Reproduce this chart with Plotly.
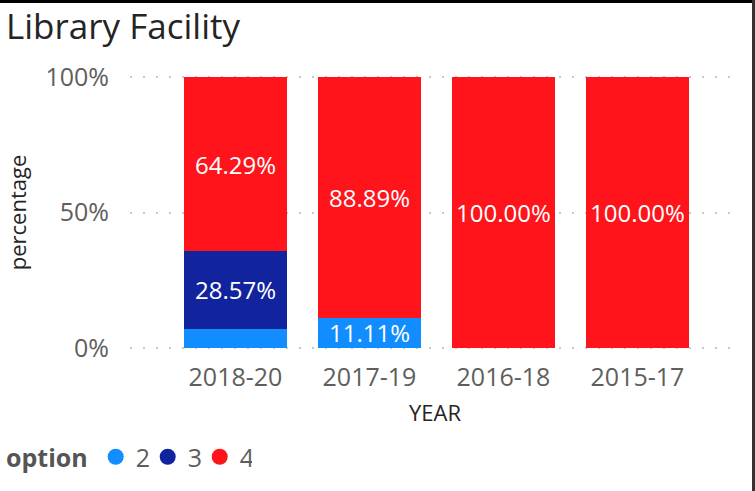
import plotly.graph_objects as go

years = ["2018-20", "2017-19", "2016-18", "2015-17"]
option2 = [7.14, 11.11, 0, 0]
option3 = [28.57, 0, 0, 0]
option4 = [64.29, 88.89, 100, 100]
y_ticks = [0, 50, 100]

series = [("2", option2, "#118DFF"), ("3", option3, "#12239E"), ("4", option4, "#FF141C")]

W, H = 755, 491
L, R, T, B = 130, 15, 76, 142
pw, ph = W - L - R, H - T - B

def px_x(px):
    return (px - L) / pw

def px_y(py):
    return (H - B - py) / ph

FONT = "Open Sans"

fig = go.Figure()
for name, vals, col in series:
    txt = [f"{v:.2f}%" if v >= 10 else "" for v in vals]
    fig.add_trace(go.Bar(
        x=years, y=vals, name=name, marker_color=col, marker_line_width=0,
        text=txt, textposition="inside", insidetextanchor="middle",
        textangle=0, constraintext="none",
        textfont=dict(color="white", size=24, family=FONT),
        showlegend=False,
    ))
    fig.add_trace(go.Scatter(
        x=[None], y=[None], mode="markers", name=name,
        marker=dict(symbol="circle", size=16, color=col),
        showlegend=True,
    ))

fig.update_layout(
    width=W, height=H,
    margin=dict(l=L, r=R, t=T, b=B, autoexpand=False),
    barmode="stack", bargap=0.231,
    plot_bgcolor="white", paper_bgcolor="white",
    font=dict(family=FONT, color="#605E5C"),
    title=dict(text="Library Facility", x=6 / W, xanchor="left", xref="container",
               y=1 - 27 / H, yanchor="middle", yref="container",
               font=dict(size=35, color="#252423", family=FONT)),
    xaxis=dict(range=[-0.787, 3.765], showgrid=False, zeroline=False, showline=False,
               automargin=False,
               tickfont=dict(size=25, color="#605E5C"), ticklabelstandoff=11,
               title=dict(text="YEAR", font=dict(size=22, color="#252423"), standoff=13)),
    yaxis=dict(range=[-0.4, 100.4], tickvals=y_ticks, ticktext=[f"{v}%" for v in y_ticks],
               zeroline=False, showline=False, automargin=False,
               showgrid=True, gridcolor="#C8C8C8", gridwidth=2, griddash="2px,11px",
               tickfont=dict(size=25, color="#605E5C"), ticklabelstandoff=20,
               title=dict(text="percentage", font=dict(size=22, color="#252423"), standoff=12)),
    legend=dict(orientation="h", traceorder="normal",
                xref="container", yref="container",
                x=4 / W, xanchor="left", y=1 - 457 / H, yanchor="middle",
                title=dict(text="<b>option</b>", font=dict(size=25, color="#555555")),
                font=dict(size=25, color="#605E5C"), itemwidth=30, tracegroupgap=0,
                entrywidth=7),
    shapes=[
        dict(type="line", xref="paper", yref="paper", x0=px_x(0), x1=px_x(W), y0=px_y(1.5), y1=px_y(1.5),
             line=dict(color="black", width=3)),
        dict(type="line", xref="paper", yref="paper", x0=px_x(753.5), x1=px_x(753.5), y0=px_y(0), y1=px_y(H),
             line=dict(color="#333333", width=3)),
    ],
)

fig.write_html("out.html", config={"displayModeBar": False},
               post_script="document.body.style.margin='0';")
